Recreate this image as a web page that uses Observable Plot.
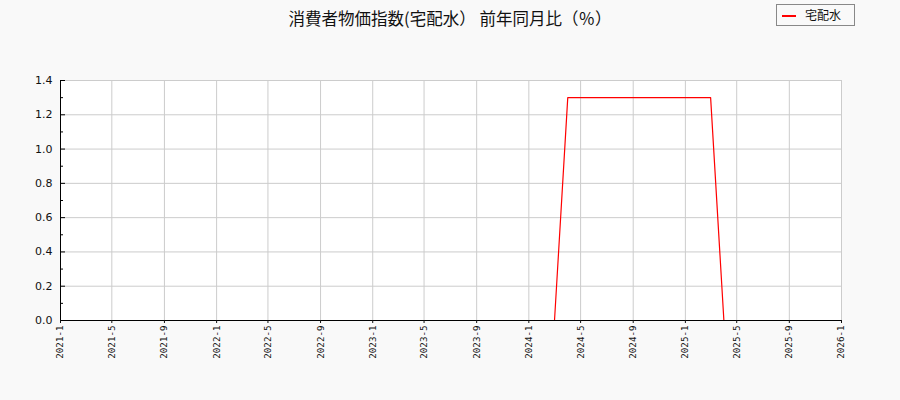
<!DOCTYPE html>
<html><head><meta charset="utf-8">
<script src="https://cdn.jsdelivr.net/npm/d3@7"></script>
<script src="https://cdn.jsdelivr.net/npm/@observablehq/plot@0.6"></script>
<style>
html,body{margin:0;padding:0;background:#f9f9f9;}
#wrap{position:relative;width:900px;height:400px;background:#f9f9f9;overflow:hidden;}
#title{position:absolute;left:0;width:900px;top:7px;text-align:center;font-family:"Noto Sans CJK JP";font-size:16.5px;color:#111;line-height:22px;}
#legend{position:absolute;left:776px;top:4px;width:77px;height:20px;border:1px solid #888;background:#f9f9f9;font-family:"Noto Sans CJK JP";font-size:12px;color:#111;}
#legend .sw{position:absolute;left:5px;top:10px;width:14px;height:2px;background:red;}
#legend .lb{position:absolute;left:28px;top:1px;line-height:18px;}
#chart{position:absolute;left:0;top:0;}
</style></head>
<body><div id="wrap">
<div id="chart"></div>
<div id="title">消費者物価指数(宅配水） 前年同月比（％）</div>
<div id="legend"><div class="sw"></div><div class="lb">宅配水</div></div>
</div>
<script>
const seriesName = "宅配水";
const startMonth = "2021-01";
const values = [
  0,0,0,0,0,0,0,0,0,0,0,0,          // 2021
  0,0,0,0,0,0,0,0,0,0,0,0,          // 2022
  0,0,0,0,0,0,0,0,0,0,0,0,          // 2023
  0,0,0,1.3,1.3,1.3,1.3,1.3,1.3,1.3,1.3,1.3, // 2024
  1.3,1.3,1.3,0                      // 2025
];
const xTickLabels = ["2021-1","2021-5","2021-9","2022-1","2022-5","2022-9","2023-1","2023-5","2023-9","2024-1","2024-5","2024-9","2025-1","2025-5","2025-9","2026-1"];
const yTicks = [0,0.2,0.4,0.6,0.8,1.0,1.2,1.4];
const yMinorTicks = [0.1,0.3,0.5,0.7,0.9,1.1,1.3];

const parseYM = s => { const [y,m] = s.split("-").map(Number); return new Date(Date.UTC(y, m-1, 1)); };
const start = parseYM(startMonth);
const data = values.map((v,i) => ({date: d3.utcMonth.offset(start, i), value: v}));
const xTicks = xTickLabels.map(parseYM);
const fmt = d => `${d.getUTCFullYear()}-${d.getUTCMonth()+1}`;

const W = 900, H = 400, mL = 60, mR = 59, mT = 80, mB = 80;
const innerW = W - mL - mR;

const chart = Plot.plot({
  width: W, height: H,
  marginLeft: mL, marginRight: mR, marginTop: mT, marginBottom: mB,
  style: {background: "transparent", fontFamily: "DejaVu Sans", color: "#111"},
  x: {type: "utc", domain: [xTicks[0], xTicks[xTicks.length-1]]},
  y: {domain: [0, 1.4]},
  marks: [
    Plot.frame({fill: "white", stroke: null}),
    Plot.gridX(xTicks, {stroke: "#cccccc", strokeOpacity: 1, strokeWidth: 1}),
    Plot.gridY(yTicks, {stroke: "#cccccc", strokeOpacity: 1, strokeWidth: 1}),
    Plot.line(data, {x: "date", y: "value", stroke: "red", strokeWidth: 1.2}),
    Plot.ruleX([xTicks[0]], {stroke: "black", strokeWidth: 1}),
    Plot.ruleY([0], {stroke: "black", strokeWidth: 1}),
    Plot.tickY(yTicks, {y: d => d, stroke: "black", insetRight: innerW - 5}),
    Plot.tickY(yMinorTicks, {y: d => d, stroke: "black", insetRight: innerW - 3}),
    Plot.axisY(yTicks, {tickSize: 0, tickPadding: 8, tickFormat: d => d.toFixed(1), fontSize: 11, label: null}),
    Plot.axisX(xTicks, {tickSize: 3, tickPadding: 2, tickRotate: -90, tickFormat: fmt, fontSize: 9.2, fontFamily: "DejaVu Sans Mono", fontWeight: 500, label: null})
  ]
});
document.getElementById("chart").appendChild(chart);
</script>
</body></html>
